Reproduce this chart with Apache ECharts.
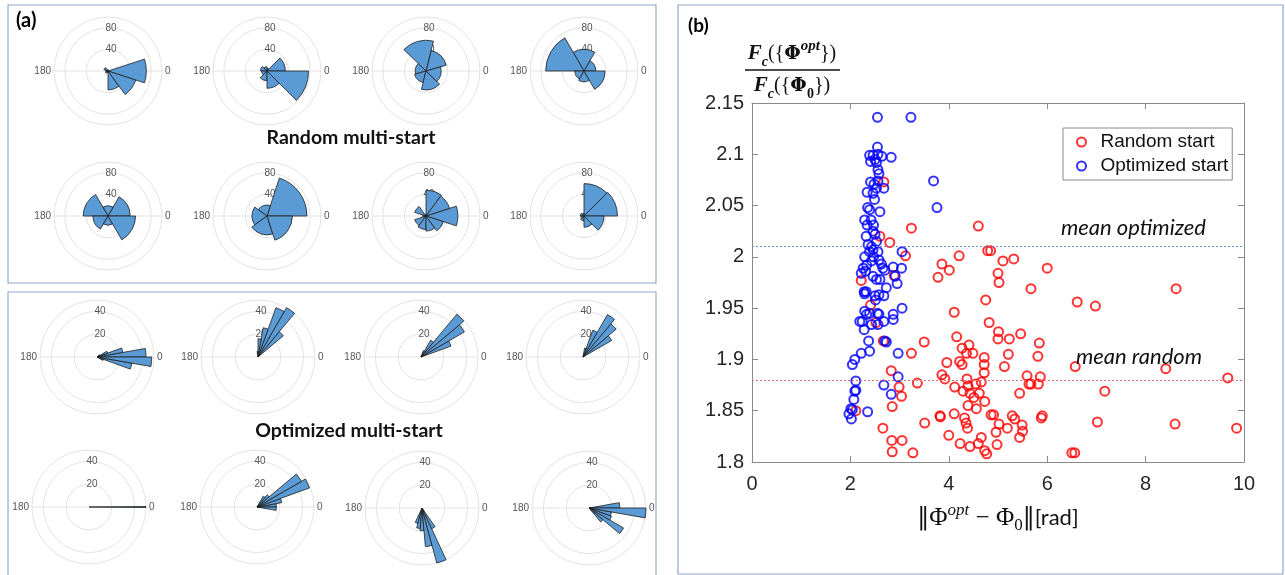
<!DOCTYPE html>
<html>
<head>
<meta charset="utf-8">
<script src="https://cdn.jsdelivr.net/npm/echarts@6/dist/echarts.min.js"></script>
<style>
  html, body { margin: 0; padding: 0; background: #fff; }
  #chart { width: 1285px; height: 575px; }
</style>
</head>
<body>
<div id="chart"></div>
<script>
// (a) polar histograms of the phase updates. Counts per bin were read off the
// rose plots; bin width / first edge differ per plot (MATLAB auto binning).
const randomBinWidth = [36, 45, 60, 60, 60, 72, 36, 45]
const randomBinStart = [-18, 0, 16, 0, 0, 0, -18, 0]
const randomCounts = [
  [71, 0, 0, 3, 8, 4, 5, 3, 35, 54],
  [34, 5, 8, 12, 10, 18, 32, 77],
  [39, 57, 20, 22, 35, 28],
  [22, 40, 71, 17, 20, 39],
  [41, 19, 46, 28, 17, 51],
  [74, 20, 28, 35, 47],
  [59, 46, 48, 3, 22, 6, 22, 25, 28, 34],
  [62, 60, 5, 7, 6, 9, 21, 37]
]
const randomRMax = 100
const randomRStep = 40

// optimized multi-start: narrow bins, listed as [lower edge (deg), count];
// bins that are not listed are empty
const optBinWidth = [10, 10, 10, 10, 1, 10, 10, 10]
const optBinStart = [0, 0, 0, 0, -0.5, 0, 5, 0]
const optCounts = [
  [[0, 43], [10, 23], [20, 10], [30, 3], [-10, 48], [-20, 31], [-30, 6]],
  [[40, 29], [50, 50], [60, 46], [70, 26], [80, 16], [90, 5]],
  [[20, 28], [30, 44], [40, 49], [50, 17], [60, 6]],
  [[30, 29], [40, 38], [50, 43], [60, 25], [70, 8]],
  [[-0.5, 50]],
  [[-10, 17], [0, 17], [10, 22], [20, 49], [30, 45], [40, 14], [50, 11]],
  [[245, 14], [255, 18], [265, 20], [275, 34], [285, 50], [295, 20]],
  [[0, 27], [-10, 50], [-20, 20], [-30, 21], [-40, 35], [-50, 16]]
]
const optRMax = 50
const optRStep = 20

// (b) scatter: [ ||Phi_opt - Phi_0|| , Fc ratio ]
const randomStart = [
  [2.68, 2.073], [3.24, 2.028], [2.60, 2.020], [2.80, 2.014], [3.12, 2.001], [2.22, 1.977],
  [2.89, 1.982], [2.41, 1.953], [2.52, 1.936], [2.67, 1.918], [3.24, 1.906], [3.50, 1.917],
  [2.83, 1.889], [3.36, 1.877], [2.99, 1.873], [3.04, 1.864], [2.85, 1.854], [2.11, 1.850],
  [2.66, 1.833], [2.84, 1.821], [3.05, 1.821], [2.85, 1.810], [3.27, 1.809], [3.51, 1.838],
  [3.82, 1.845], [3.83, 1.844], [4.00, 1.826], [4.11, 1.847], [4.23, 1.818], [4.43, 1.815],
  [4.32, 1.843], [4.35, 1.838], [4.38, 1.833], [4.66, 1.824], [4.60, 1.818], [4.73, 1.811],
  [4.77, 1.808], [4.11, 1.946], [3.78, 1.980], [3.86, 1.993], [4.01, 1.987], [4.21, 2.001],
  [4.60, 2.030], [4.75, 1.958], [4.16, 1.922], [4.27, 1.911], [4.41, 1.914], [4.36, 1.906],
  [4.49, 1.906], [3.96, 1.897], [4.22, 1.898], [4.27, 1.895], [3.86, 1.885], [3.92, 1.881],
  [4.72, 1.902], [4.72, 1.895], [4.72, 1.887], [4.37, 1.881], [4.55, 1.876], [4.66, 1.878],
  [4.12, 1.873], [4.29, 1.869], [4.39, 1.874], [4.43, 1.867], [4.62, 1.867], [4.51, 1.863],
  [4.73, 1.859], [4.39, 1.855], [4.56, 1.852],
  [4.79, 2.006], [4.85, 2.006], [5.10, 1.996], [5.32, 1.998], [5.00, 1.984], [5.02, 1.975],
  [6.00, 1.989], [5.67, 1.969], [8.62, 1.969], [6.61, 1.956], [6.98, 1.952], [4.82, 1.936],
  [5.01, 1.927], [5.00, 1.920], [5.23, 1.920], [5.46, 1.925], [5.84, 1.916], [5.21, 1.905],
  [5.81, 1.903], [5.13, 1.893], [6.57, 1.893], [8.41, 1.891], [5.59, 1.884], [5.63, 1.876],
  [5.67, 1.876], [5.82, 1.876], [5.86, 1.883], [9.67, 1.882], [5.44, 1.867], [7.17, 1.869],
  [4.86, 1.846], [4.91, 1.846], [5.29, 1.845], [5.34, 1.842], [5.88, 1.843], [5.90, 1.845],
  [5.02, 1.837], [5.19, 1.833], [4.96, 1.829], [5.49, 1.836], [5.50, 1.830], [5.44, 1.824],
  [7.02, 1.839], [8.60, 1.837], [9.85, 1.833], [4.98, 1.817], [6.50, 1.809], [6.56, 1.809]
]
const optimizedStart = [
  [2.55, 2.136], [3.23, 2.136], [2.55, 2.107],
  [2.39, 2.099], [2.46, 2.099], [2.56, 2.100], [2.64, 2.098], [2.83, 2.097],
  [2.41, 2.093], [2.50, 2.095], [2.53, 2.092], [2.56, 2.085], [2.58, 2.081], [3.69, 2.074],
  [2.41, 2.073], [2.48, 2.071], [2.56, 2.074], [2.53, 2.067], [2.68, 2.067],
  [2.34, 2.063], [2.46, 2.062], [2.49, 2.056], [3.76, 2.048],
  [2.35, 2.048], [2.39, 2.046], [2.60, 2.044],
  [2.29, 2.036], [2.34, 2.031], [2.42, 2.036], [2.47, 2.031],
  [2.32, 2.020], [2.46, 2.025], [2.50, 2.022], [2.53, 2.015],
  [2.36, 2.012], [2.43, 2.010], [2.39, 2.005], [2.46, 2.007], [2.56, 2.005], [3.05, 2.005],
  [2.29, 2.000], [2.43, 1.996], [2.47, 2.000], [2.58, 1.997], [2.63, 1.993],
  [2.26, 1.989], [2.33, 1.992], [2.22, 1.984], [2.31, 1.986], [2.66, 1.989], [2.70, 1.987],
  [2.87, 1.990], [3.04, 1.989],
  [2.46, 1.981], [2.53, 1.978], [2.60, 1.978], [2.91, 1.981], [2.95, 1.974],
  [2.28, 1.966], [2.32, 1.966], [2.29, 1.964], [2.73, 1.970],
  [2.50, 1.962], [2.58, 1.963], [2.68, 1.962], [2.51, 1.958], [3.05, 1.950],
  [2.29, 1.947], [2.33, 1.944], [2.39, 1.945], [2.55, 1.945], [2.58, 1.944], [2.87, 1.944],
  [2.87, 1.939], [2.68, 1.937], [2.19, 1.937], [2.24, 1.937], [2.28, 1.929],
  [2.43, 1.934], [2.56, 1.934], [2.70, 1.918], [2.73, 1.917], [2.37, 1.918],
  [2.97, 1.906], [2.22, 1.906], [2.39, 1.908], [2.04, 1.895], [2.09, 1.900],
  [2.97, 1.883], [2.11, 1.879], [2.68, 1.875], [2.09, 1.869], [2.11, 1.870],
  [2.83, 1.866], [2.07, 1.861],
  [2.01, 1.852], [2.04, 1.851], [1.97, 1.847], [2.02, 1.842], [2.35, 1.849]
]
const meanOptimized = 2.009
const meanRandom = 1.881

// ---- layout (pixels) ----
const randomCenters = [[108, 71], [267, 71], [426, 71], [584, 71], [108, 216], [267, 216], [426, 216], [584, 216]]
const optCenters = [[97, 357], [258, 357], [421, 357], [583, 357], [89, 507], [257, 507], [422, 508], [589, 508]]
const RING = '#e3e3e3'
const BAR = '#5b9bd5'
const LABEL_GREY = '#555'

const polar = []
const angleAxis = []
const radiusAxis = []
const series = []

function addRose(center, R, rmax, rstep, binWidth, binStart, counts) {
  const base = polar.length
  for (let k = 0; k < 3; k++) polar.push({ center: center, radius: R })
  const start = (binStart + 360) % 360

  // rings + radius labels up the vertical
  angleAxis.push({
    polarIndex: base, type: 'value', min: 0, max: 360, startAngle: 90,
    axisLine: { show: false }, axisTick: { show: false }, axisLabel: { show: false }, splitLine: { show: false }
  })
  radiusAxis.push({
    polarIndex: base, type: 'value', min: 0, max: rmax, interval: rstep,
    axisLine: { show: false }, axisTick: { show: false },
    splitLine: { show: true, lineStyle: { color: RING, width: 1 } },
    axisLabel: {
      formatter: function (v) { return (v > 0 && v < rmax) ? String(v) : '' },
      color: LABEL_GREY, fontSize: 10, fontFamily: 'Liberation Sans',
      align: 'center', margin: 0, padding: [0, 0, 0, 6]
    }
  })

  // 0 / 180 line and its labels
  angleAxis.push({
    polarIndex: base + 1, type: 'value', min: 0, max: 360, interval: 180, startAngle: 0, clockwise: false,
    axisLine: { show: false }, axisTick: { show: false },
    splitLine: { show: true, lineStyle: { color: RING, width: 1 } },
    axisLabel: {
      margin: 3, color: LABEL_GREY, fontSize: 10, fontFamily: 'Liberation Sans',
      formatter: function (v) { return v >= 360 ? '' : String(v) }
    }
  })
  radiusAxis.push({ polarIndex: base + 1, type: 'value', min: 0, max: rmax, show: false })

  // histogram wedges
  angleAxis.push({
    polarIndex: base + 2, type: 'category', startAngle: start, clockwise: false, boundaryGap: true,
    data: counts.map(function (_, i) { return String(binStart + i * binWidth) }),
    axisLine: { show: false }, axisTick: { show: false }, axisLabel: { show: false }, splitLine: { show: false }
  })
  radiusAxis.push({ polarIndex: base + 2, type: 'value', min: 0, max: rmax, show: false })
  series.push({
    type: 'bar', coordinateSystem: 'polar', polarIndex: base + 2, data: counts,
    barCategoryGap: '0%', barGap: '0%', silent: true,
    itemStyle: { color: BAR, borderColor: '#1e1e1e', borderWidth: 0.8 }
  })
}

// sparse [edge, count] list -> full bin array
function expandBins(pairs, width, start) {
  const n = Math.round(360 / width)
  const bins = new Array(n).fill(0)
  pairs.forEach(function (p) {
    const idx = ((Math.round((p[0] - start) / width) % n) + n) % n
    bins[idx] = p[1]
  })
  return bins
}

randomCounts.forEach(function (c, i) {
  addRose(randomCenters[i], 54, randomRMax, randomRStep, randomBinWidth[i], randomBinStart[i], c)
})
optCounts.forEach(function (pairs, i) {
  addRose(optCenters[i], 57, optRMax, optRStep, optBinWidth[i], optBinStart[i],
    expandBins(pairs, optBinWidth[i], optBinStart[i]))
})

// ---- (b) scatter ----
const AXIS_GREY = '#8a8a8a'
const TICK_FONT = { fontSize: 20, color: '#262626', fontFamily: 'Liberation Sans' }

function boxAxis(extra) {
  return Object.assign({
    axisLine: { show: true, onZero: false, lineStyle: { color: AXIS_GREY, width: 1 } },
    axisTick: { show: true, inside: true, length: 6, lineStyle: { color: AXIS_GREY } },
    splitLine: { show: false }
  }, extra)
}

const circleStyle = function (col) {
  return { color: 'rgba(0,0,0,0)', borderColor: col, borderWidth: 2 }
}

series.push({
  type: 'scatter', name: 'Random start', xAxisIndex: 0, yAxisIndex: 0,
  data: randomStart, symbol: 'circle', symbolSize: 9, itemStyle: circleStyle('#ff0000'),
  markLine: {
    silent: true, symbol: ['none', 'none'],
    lineStyle: { color: '#e06a6a', type: [2, 2], width: 1 },
    label: {
      show: true, position: 'insideEndTop', formatter: 'mean random', distance: 12,
      padding: [0, 30, 0, 0], color: '#111', fontSize: 22, fontStyle: 'italic', fontFamily: 'Lato'
    },
    data: [{ yAxis: meanRandom }]
  }
})
series.push({
  type: 'scatter', name: 'Optimized start', xAxisIndex: 0, yAxisIndex: 0,
  data: optimizedStart, symbol: 'circle', symbolSize: 9, itemStyle: circleStyle('#0000ff'),
  markLine: {
    silent: true, symbol: ['none', 'none'],
    lineStyle: { color: '#6f8fd6', type: [2, 2], width: 1 },
    label: {
      show: true, position: 'insideEndTop', formatter: 'mean optimized', distance: 8,
      padding: [0, 30, 0, 0], color: '#111', fontSize: 22, fontStyle: 'italic', fontFamily: 'Lato'
    },
    data: [{ yAxis: meanOptimized }]
  }
})

const serif = 'Liberation Serif'
const fracRich = {
  bi: { fontFamily: serif, fontStyle: 'italic', fontWeight: 'bold', fontSize: 21, lineHeight: 30 },
  sub: { fontFamily: serif, fontStyle: 'italic', fontWeight: 'bold', fontSize: 14, verticalAlign: 'bottom', lineHeight: 12 },
  sub0: { fontFamily: serif, fontWeight: 'bold', fontSize: 14, verticalAlign: 'bottom', lineHeight: 12 },
  b: { fontFamily: 'DejaVu Serif', fontWeight: 'bold', fontSize: 19, lineHeight: 30 },
  sup: { fontFamily: serif, fontStyle: 'italic', fontWeight: 'bold', fontSize: 15, verticalAlign: 'top', lineHeight: 12 }
}

const chart = echarts.init(document.getElementById('chart'))
chart.setOption({
  animation: false,
  backgroundColor: '#fff',
  textStyle: { fontFamily: 'Liberation Sans' },
  polar: polar,
  angleAxis: angleAxis,
  radiusAxis: radiusAxis,
  grid: { left: 752, right: 41, top: 103, bottom: 113 },
  xAxis: [
    boxAxis({
      type: 'value', position: 'bottom', min: 0, max: 10, interval: 2,
      axisLabel: Object.assign({ margin: 12 }, TICK_FONT),
      name: '{bar|‖}{t|Φ}{sup|opt}{t| − Φ}{sub|0}{bar|‖}{r|[rad]}',
      nameLocation: 'middle', nameGap: 40,
      nameTextStyle: {
        color: '#111',
        rich: {
          bar: { fontFamily: 'DejaVu Serif', fontSize: 24, lineHeight: 32 },
          t: { fontFamily: serif, fontSize: 25, lineHeight: 32 },
          sup: { fontFamily: serif, fontStyle: 'italic', fontSize: 17, verticalAlign: 'top', lineHeight: 13 },
          sub: { fontFamily: serif, fontSize: 17, verticalAlign: 'bottom', lineHeight: 13 },
          r: { fontFamily: 'Lato', fontSize: 22, lineHeight: 32 }
        }
      }
    }),
    boxAxis({ type: 'value', position: 'top', min: 0, max: 10, interval: 2, axisLabel: { show: false } })
  ],
  yAxis: [
    boxAxis({
      type: 'value', position: 'left', min: 1.8, max: 2.15, interval: 0.05,
      axisLabel: Object.assign({ margin: 8 }, TICK_FONT)
    }),
    boxAxis({ type: 'value', position: 'right', min: 1.8, max: 2.15, interval: 0.05, axisLabel: { show: false } })
  ],
  legend: {
    orient: 'vertical', left: 1063, top: 128, selectedMode: false,
    padding: [4, 4, 4, 13], itemWidth: 28, itemHeight: 9, itemGap: 4,
    borderColor: '#8a8a8a', borderWidth: 1, backgroundColor: '#fff',
    textStyle: { fontFamily: 'Liberation Sans', fontSize: 19, color: '#111', lineHeight: 20 },
    data: [
      { name: 'Random start', icon: 'circle', itemStyle: circleStyle('#ff0000') },
      { name: 'Optimized start', icon: 'circle', itemStyle: circleStyle('#0000ff') }
    ]
  },
  graphic: [
    { type: 'rect', shape: { x: 8, y: 5, width: 648, height: 278 }, style: { fill: 'none', stroke: '#8fa9cf', lineWidth: 1.2 }, silent: true },
    { type: 'rect', shape: { x: 8, y: 292, width: 648, height: 300 }, style: { fill: 'none', stroke: '#8fa9cf', lineWidth: 1.2 }, silent: true },
    { type: 'rect', shape: { x: 678, y: 5, width: 605, height: 569 }, style: { fill: 'none', stroke: '#8fa9cf', lineWidth: 1.2 }, silent: true },
    { type: 'text', x: 16, y: 21, style: { text: '(a)', fontFamily: 'Lato', fontWeight: 'bold', fontSize: 20, fill: '#000', verticalAlign: 'middle' } },
    { type: 'text', x: 688, y: 26, style: { text: '(b)', fontFamily: 'Lato', fontWeight: 'bold', fontSize: 19, fill: '#000', verticalAlign: 'middle' } },
    { type: 'text', x: 351, y: 138, style: { text: 'Random multi-start', fontFamily: 'Lato', fontWeight: 'bold', fontSize: 19.5, fill: '#111', align: 'center', verticalAlign: 'middle' } },
    { type: 'text', x: 349, y: 431, style: { text: 'Optimized multi-start', fontFamily: 'Lato', fontWeight: 'bold', fontSize: 19.5, fill: '#111', align: 'center', verticalAlign: 'middle' } },
    // y-axis title: Fc({Phi_opt}) / Fc({Phi_0})
    { type: 'text', x: 792, y: 54, style: { text: '{bi|F}{sub|c}({{b|Φ}{sup|opt}})', fontFamily: serif, fontSize: 20, lineHeight: 30, fill: '#111', align: 'center', verticalAlign: 'middle', rich: fracRich } },
    { type: 'line', shape: { x1: 745, y1: 70, x2: 840, y2: 70 }, style: { stroke: '#111', lineWidth: 1.5 }, silent: true },
    { type: 'text', x: 792, y: 86, style: { text: '{bi|F}{sub|c}({{b|Φ}{sub0|0}})', fontFamily: serif, fontSize: 20, lineHeight: 30, fill: '#111', align: 'center', verticalAlign: 'middle', rich: fracRich } }
  ],
  series: series
})
</script>
</body>
</html>
